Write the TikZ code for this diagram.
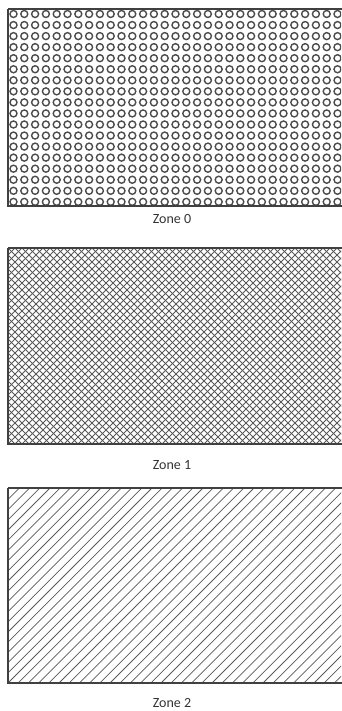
\documentclass[tikz,border=0pt]{standalone}
\usepackage{fontspec}
\setmainfont{Carlito}
\begin{document}
\begin{tikzpicture}[x=1pt,y=-1pt,
  frame/.style={draw=black!75, line width=1.1pt},
  dot/.style={draw=black!70, line width=1.4pt},
  hatch/.style={draw=black!65, line width=0.75pt},
  zlabel/.style={font=\fontsize{14}{16}\selectfont, text=black!80, inner sep=0pt}]
\useasboundingbox (0,0) rectangle (341,711);
% Zone 0
\begin{scope}
  \clip (8,9) rectangle (341,206);
  \foreach \r in {0,...,17}{
    \foreach \c in {0,...,30}{
      \draw[dot] (13.5+\c*10.8, 14+\r*11.05) circle (3.5);
    }
  }
\end{scope}
\draw[frame] (8,9) -- (343,9) (8,9) -- (8,206) -- (343,206);
\node[zlabel] (z0) at (172,219) {Zone 0};
% Zone 1
\begin{scope}
  \clip (8,248) rectangle (341,444);
  \foreach \i in {-30,...,50}{
    \draw[hatch] (8+\i*7,444) -- ++(200,-200);
    \draw[hatch] (8+\i*7,248) -- ++(200,200);
  }
\end{scope}
\draw[frame] (8,248) -- (343,248) (8,248) -- (8,444) -- (343,444);
\node[zlabel] (z1) at (172,465) {Zone 1};
% Zone 2
\begin{scope}
  \clip (8,488) rectangle (341,683);
  \foreach \i in {-20,...,40}{
    \draw[hatch] (8+\i*10.2,683) -- ++(200,-200);
  }
\end{scope}
\draw[frame] (8,488) -- (343,488) (8,488) -- (8,683) -- (343,683);
\node[zlabel] (z2) at (172,703) {Zone 2};
\end{tikzpicture}
\end{document}
